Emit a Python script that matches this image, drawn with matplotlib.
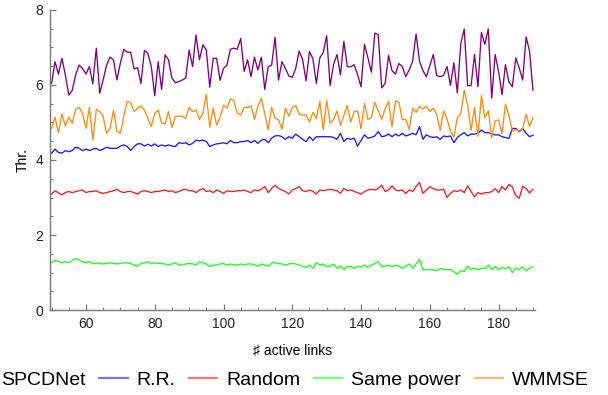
import matplotlib
matplotlib.use("Agg")
import matplotlib.pyplot as plt
from matplotlib.lines import Line2D
from matplotlib.ticker import MultipleLocator
import numpy as np

plt.rcParams['font.family'] = ['Liberation Sans', 'DejaVu Sans']

links = list(range(50, 191))

spcdnet = [
    6.04, 6.62, 6.29, 6.71, 6.27, 5.73, 5.85, 6.27, 6.53, 6.44,
    6.29, 6.49, 6.03, 6.98, 5.78, 6.13, 6.53, 6.74, 6.67, 6.13,
    6.58, 6.95, 6.87, 6.87, 6.42, 6.46, 6.04, 6.92, 6.84, 6.49,
    5.71, 6.62, 5.88, 6.80, 6.67, 6.18, 6.06, 6.09, 6.13, 6.18,
    6.93, 6.49, 7.33, 6.67, 7.07, 6.93, 5.94, 6.71, 6.71, 6.12,
    6.44, 6.53, 6.95, 6.98, 6.95, 7.24, 6.36, 6.67, 6.22, 6.74,
    6.40, 6.74, 5.88, 6.49, 6.53, 7.27, 6.13, 6.62, 6.44, 6.24,
    6.20, 6.44,
    6.90, 6.68, 6.11, 6.89, 6.70, 6.04, 6.72, 6.86, 7.31, 5.98,
    6.54, 6.81, 6.27, 7.16, 6.49, 6.48, 6.54, 6.27, 5.95, 7.08,
    6.72, 6.34, 7.38, 7.34, 5.92, 6.04, 6.79, 6.38, 6.29, 6.57,
    6.49, 6.22, 6.40, 6.63, 7.36, 6.63, 6.38, 6.22, 6.51, 6.81,
    6.25, 6.22, 6.25, 6.49, 5.99, 6.59, 5.79, 7.10, 7.49, 5.98,
    5.98, 6.81, 5.95, 7.40, 7.08, 7.49, 5.65, 6.81, 6.36, 5.74,
    6.54, 6.08, 5.95, 6.72, 6.45, 6.13, 7.28, 6.90, 5.86,
]

rr = [
    4.18, 4.29, 4.20, 4.18, 4.25, 4.22, 4.25, 4.34, 4.31, 4.25,
    4.29, 4.25, 4.29, 4.31, 4.25, 4.29, 4.34, 4.31, 4.31, 4.31,
    4.37, 4.40, 4.36, 4.25, 4.36, 4.43, 4.43, 4.37, 4.42, 4.37,
    4.43, 4.36, 4.40, 4.37, 4.40, 4.37, 4.36, 4.46, 4.44, 4.46,
    4.40, 4.44, 4.53, 4.51, 4.53,
    4.49, 4.36, 4.40, 4.43, 4.44, 4.46, 4.43, 4.52, 4.46, 4.46,
    4.49, 4.49, 4.52, 4.46, 4.52, 4.44, 4.53, 4.55, 4.46, 4.58,
    4.64, 4.65, 4.62, 4.55, 4.62, 4.58, 4.69, 4.62, 4.55, 4.49,
    4.62, 4.52, 4.62, 4.62, 4.62, 4.62, 4.62, 4.60, 4.55, 4.71,
    4.49, 4.58,
    4.55, 4.58, 4.37, 4.52, 4.67, 4.58, 4.60, 4.64, 4.76, 4.62,
    4.64, 4.69, 4.62, 4.69, 4.64, 4.71, 4.64, 4.67, 4.71, 4.67,
    4.89, 4.55, 4.67, 4.62, 4.60, 4.62, 4.55, 4.64, 4.62, 4.64,
    4.46, 4.60, 4.67, 4.73, 4.64, 4.69, 4.69, 4.71, 4.80, 4.73,
    4.73, 4.69, 4.67, 4.67, 4.62,
    4.60, 4.57, 4.84, 4.84, 4.75, 4.84, 4.71, 4.62, 4.66,
]

random_ = [
    3.09, 3.18, 3.12, 3.07, 3.13, 3.16, 3.13, 3.16, 3.18, 3.20,
    3.13, 3.16, 3.16, 3.18, 3.13, 3.11, 3.13, 3.16, 3.18, 3.22,
    3.16, 3.13, 3.16, 3.16, 3.13, 3.09, 3.16, 3.18, 3.16, 3.13,
    3.16, 3.16, 3.18, 3.20, 3.16, 3.18, 3.13, 3.16, 3.20, 3.22,
    3.18, 3.18, 3.13, 3.20, 3.24,
    3.16, 3.18, 3.13, 3.20, 3.16, 3.11, 3.18, 3.16, 3.16, 3.18,
    3.18, 3.20, 3.16, 3.13, 3.20, 3.18, 3.22, 3.29, 3.13, 3.24,
    3.33, 3.24, 3.20, 3.16, 3.09, 3.20, 3.24, 3.29, 3.18, 3.16,
    3.20, 3.16, 3.09, 3.20, 3.18, 3.20, 3.22, 3.20, 3.18, 3.11,
    3.24, 3.18,
    3.20, 3.16, 3.13, 3.09, 3.16, 3.20, 3.22, 3.20, 3.24, 3.33,
    3.16, 3.20, 3.31, 3.20, 3.18, 3.20, 3.11, 3.20, 3.16, 3.29,
    3.40, 3.11, 3.20, 3.29, 3.24, 3.20, 3.20, 3.22, 3.00, 3.11,
    3.18, 3.16, 3.20, 3.13, 3.31, 3.16, 3.02, 3.13, 3.09, 3.13,
    3.13, 3.16, 3.24, 3.13, 3.29,
    3.20, 3.35, 3.28, 3.05, 2.98, 3.30, 3.24, 3.12, 3.22,
]

same_power = [
    1.26, 1.33, 1.29, 1.26, 1.29, 1.26, 1.32, 1.38, 1.33, 1.29,
    1.26, 1.29, 1.23, 1.26, 1.24, 1.23, 1.24, 1.26, 1.24, 1.23,
    1.24, 1.26, 1.26, 1.24, 1.20, 1.16, 1.24, 1.26, 1.29, 1.23,
    1.26, 1.24, 1.24, 1.23, 1.20, 1.23, 1.26, 1.20, 1.20, 1.23,
    1.24, 1.23, 1.20, 1.29, 1.26,
    1.23, 1.16, 1.20, 1.20, 1.23, 1.24, 1.20, 1.23, 1.20, 1.20,
    1.23, 1.20, 1.23, 1.23, 1.20, 1.17, 1.23, 1.20, 1.17, 1.26,
    1.26, 1.24, 1.23, 1.20, 1.23, 1.24, 1.23, 1.20, 1.16, 1.14,
    1.20, 1.11, 1.26, 1.20, 1.23, 1.16, 1.17, 1.23, 1.11, 1.17,
    1.08, 1.16,
    1.16, 1.11, 1.17, 1.14, 1.20, 1.14, 1.20, 1.24, 1.29, 1.16,
    1.17, 1.20, 1.16, 1.20, 1.17, 1.11, 1.17, 1.23, 1.11, 1.23,
    1.35, 1.07, 1.08, 1.08, 1.07, 1.05, 1.11, 1.08, 1.08, 1.08,
    1.02, 0.96, 1.05, 1.02, 1.17, 1.08, 1.11, 1.08, 1.11, 1.11,
    1.20, 1.08, 1.16, 1.08, 1.14,
    1.10, 1.15, 1.00, 1.12, 1.08, 1.15, 1.05, 1.12, 1.15,
]

wmmse = [
    4.84, 5.14, 4.73, 5.23, 4.91, 5.14, 4.98, 5.35, 5.40, 5.24,
    4.84, 5.40, 4.53, 5.35, 5.29, 5.16, 4.71, 4.84, 5.32, 4.77,
    4.71, 5.17, 5.56, 5.53, 5.29, 5.38, 5.44, 5.33, 5.11, 4.89,
    5.24, 5.33, 4.98, 4.96, 5.29, 4.86, 5.16, 5.17, 5.16, 5.11,
    5.40, 5.29, 5.33, 5.08, 5.24, 5.75, 4.87, 5.38, 4.93, 5.14,
    5.46, 5.38, 5.63, 5.58, 5.24, 5.20, 5.40, 5.40, 5.44, 5.08,
    5.44, 5.64, 5.24, 4.80, 5.40, 5.11, 5.07, 4.82, 5.38, 5.17,
    5.40, 5.45,
    5.22, 5.20, 5.20, 5.01, 5.27, 5.10, 5.56, 4.81, 5.59, 4.98,
    5.07, 5.31, 4.92, 5.19, 5.45, 5.01, 5.29, 5.31, 4.83, 5.51,
    5.08, 5.13, 5.54, 5.31, 5.08, 5.36, 5.56, 4.88, 5.57, 5.54,
    5.08, 5.08, 4.81, 5.38, 5.27, 5.43, 5.36, 5.43, 5.29, 5.38,
    5.22, 4.79, 5.31, 5.10, 4.77, 4.61, 5.13, 5.22, 5.86, 5.45,
    4.79, 5.40, 4.63, 5.72, 5.13, 5.31, 4.59, 5.04, 5.07, 4.70,
    5.49, 5.18, 4.77, 4.81, 4.77, 4.83, 5.22, 4.90, 5.13,
]

series_names = ["SPCDNet", "R.R.", "Random", "Same power", "WMMSE"]
series_values = [spcdnet, rr, random_, same_power, wmmse]
colors = ["#800080", "#1a1aff", "#ff1a1a", "#1aff1a", "#ff8a10"]

fig = plt.figure(figsize=(6.08, 3.95), dpi=100)
ax = fig.add_axes([0.082, 0.215, 0.798, 0.76])

for name, vals, col in zip(series_names, series_values, colors):
    ax.plot(links, vals, color=col, lw=0.95)

ax.set_xlim(49.5, 190.6)
ax.set_ylim(0, 8)
ax.xaxis.set_major_locator(MultipleLocator(20))
ax.xaxis.set_minor_locator(MultipleLocator(5))
ax.yaxis.set_major_locator(MultipleLocator(2))
ax.yaxis.set_minor_locator(MultipleLocator(0.5))
for s in ["top", "right"]:
    ax.spines[s].set_visible(False)
for s in ["left", "bottom"]:
    ax.spines[s].set_color("#7a7a7a")
    ax.spines[s].set_linewidth(1.0)
ax.tick_params(which="major", direction="in", length=4, width=0.9,
               color="#7a7a7a", labelsize=10, labelcolor="#222222", pad=5)
ax.tick_params(which="minor", direction="in", length=2.3, width=0.8,
               color="#7a7a7a")

ax.set_xlabel("\u266f active links", fontsize=10, labelpad=9,
              family=['Liberation Sans', 'DejaVu Sans'])
ax.set_ylabel("Thr.", fontsize=10, labelpad=4)

handles = []
for i, col in enumerate(colors):
    if i == 0:
        handles.append(Line2D([], [], color="none", lw=1.5))
    else:
        handles.append(Line2D([], [], color=col, lw=1.6, alpha=0.6))
fig.legend(handles, series_names, loc="center left", ncol=5,
           bbox_to_anchor=(-0.059, 0.038), frameon=False, fontsize=14,
           handlelength=1.45, handletextpad=0.46, columnspacing=0.7,
           borderpad=0, borderaxespad=0)

fig.savefig("out.png", dpi=100)
